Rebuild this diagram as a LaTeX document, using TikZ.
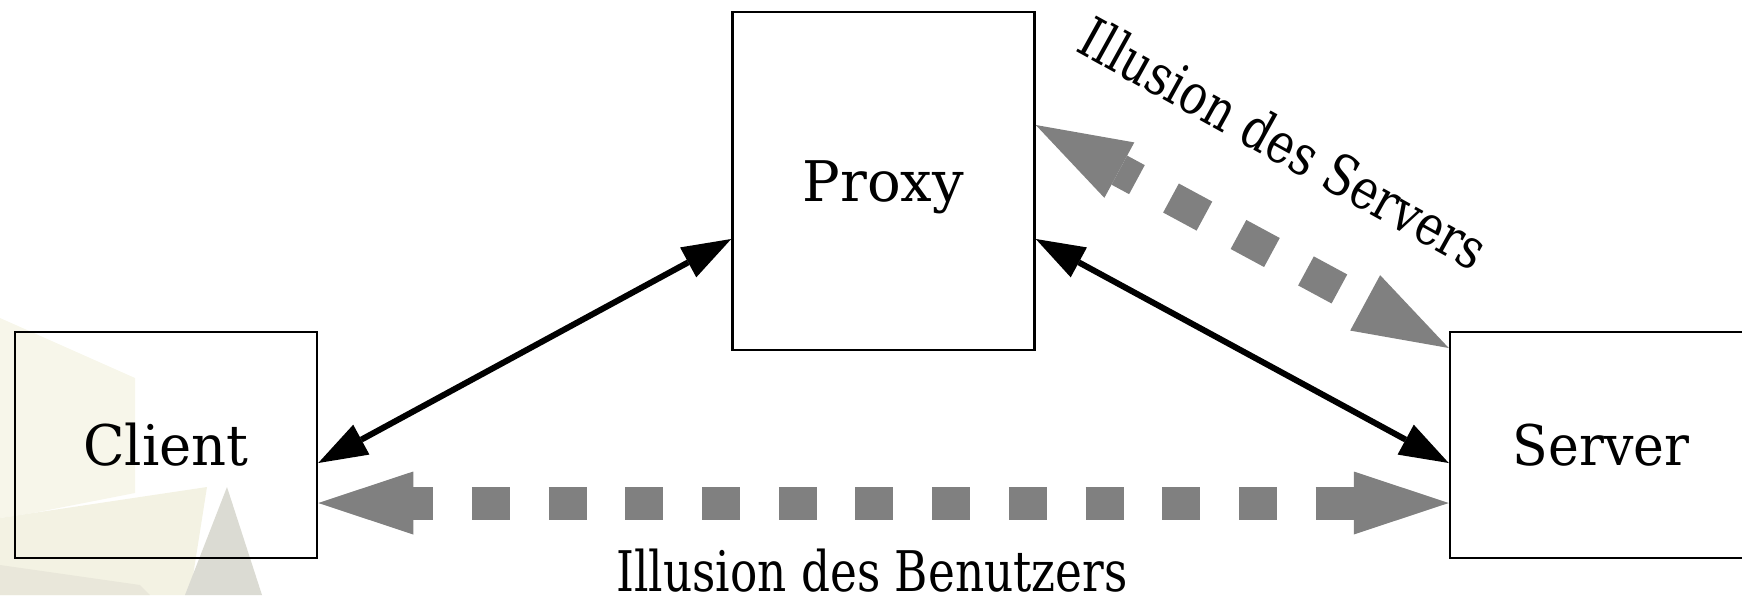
\documentclass[tikz,border=0pt]{standalone}
\usepackage{fontspec}
\usepackage{graphicx}
\setmainfont{DejaVu Serif}
\newfontfamily\lblfont[FakeStretch=0.81]{DejaVu Serif}
\newcommand\hstr[2]{\scalebox{#1}[1]{#2}}
\usetikzlibrary{arrows.meta,calc}
\definecolor{wmA}{HTML}{F7F6EA}
\definecolor{wmB}{HTML}{F3F2E3}
\definecolor{wmC}{HTML}{DBDBD3}
\definecolor{wmD}{HTML}{E9E7DA}
\tikzset{
  txt/.style={font=\fontsize{28pt}{34pt}\selectfont},
  box/.style={txt, draw=black, line width=1.25pt, rectangle, inner sep=0pt,
    minimum width=151pt, text height=20.4pt, text depth=0pt},
  smallbox/.style={box, minimum height=113pt},
  tallbox/.style={box, minimum height=169pt},
  blk/.style={draw=black, line width=3pt,
    {Triangle[length=24.5pt,width=17pt,line width=0pt]}-{Triangle[length=24.5pt,width=17pt,line width=0pt]}},
  gry/.style={draw=gray, line width=16.5pt, dash pattern=on 19pt off 19.35pt, dash phase=9pt,
    {Triangle[length=47.5pt,width=31.5pt,line width=0pt]}-{Triangle[length=47.5pt,width=31.5pt,line width=0pt]}},
  lbl/.style={font=\lblfont\fontsize{28pt}{34pt}\selectfont, inner sep=0pt, anchor=base}
}
\begin{document}
\begin{tikzpicture}[x=0.5pt,y=-0.5pt]
\useasboundingbox (0,0) rectangle (1742,595);
% faint background watermark
\fill[wmA] (0,318) -- (135,378) -- (135,493) -- (33,513) -- (0,518) -- cycle;
\fill[wmB] (0,518) -- (33,513) -- (207,487) -- (190,595) -- (0,595) -- cycle;
\fill[wmD] (0,565) -- (140,585) -- (150,595) -- (0,595) -- cycle;
\fill[wmC] (227,487) -- (262,595) -- (185,595) -- cycle;
% nodes
\node[smallbox] (client) at (166,445) {\hstr{0.97}{Client}};
\node[tallbox] (proxy) at (883.5,181) {Proxy};
\node[smallbox] (server) at (1601,445) {\hstr{0.93}{Server}};
% connectors
\draw[blk] ($(client.east)+(0,18)$) -- ($(proxy.west)+(0,58)$);
\draw[blk] ($(proxy.east)+(0,58)$) -- ($(server.west)+(0,18)$);
\draw[gry] ($(client.east)+(0,58)$) -- ($(server.west)+(0,58)$);
\draw[gry] ($(proxy.east)+(0,-56)$) -- ($(server.west)+(0,-97)$);
% labels
\node[lbl] (ib) at (872,591) {Illusion des Benutzers};
\node[lbl, rotate=-29] (is) at (1274,161) {Illusion des Servers};
\end{tikzpicture}
\end{document}
